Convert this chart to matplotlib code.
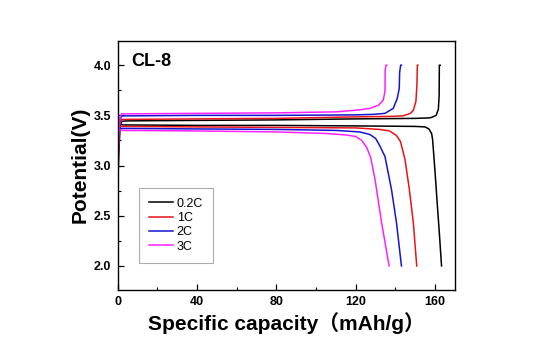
import matplotlib
matplotlib.use("Agg")
import matplotlib.pyplot as plt
from matplotlib.ticker import MultipleLocator

plt.rcParams['font.family'] = ['Liberation Sans', 'Noto Sans CJK SC', 'DejaVu Sans']

labels = ["0.2C", "1C", "2C", "3C"]
colors = ["#000000", "#e8141a", "#1414d0", "#ff20ff"]

# charge curves (capacity mAh/g, potential V)
chg_cap_02 = [0, 0.5, 1.2, 2, 4, 40, 80, 120, 150, 157, 158.2, 160.5, 161.6, 162.0, 162.1, 162.5]
chg_v_02 = [2.75, 3.10, 3.40, 3.44, 3.445, 3.45, 3.455, 3.465, 3.47, 3.475, 3.48, 3.50, 3.56, 3.70, 4.00, 4.00]
chg_cap_1 = [0, 0.5, 1.2, 2, 4, 40, 80, 120, 138, 143.9, 147.5, 149.0, 150.3, 150.8, 151.0, 151.3]
chg_v_1 = [2.85, 3.15, 3.42, 3.46, 3.46, 3.465, 3.47, 3.485, 3.49, 3.495, 3.52, 3.55, 3.64, 3.80, 4.00, 4.00]
chg_cap_2 = [0, 0.5, 1.2, 2, 4, 40, 80, 120, 128.8, 134.7, 138.9, 140.9, 141.9, 142.1, 142.6, 143.0]
chg_v_2 = [3.00, 3.25, 3.46, 3.495, 3.495, 3.50, 3.50, 3.505, 3.51, 3.52, 3.57, 3.67, 3.77, 3.93, 4.00, 4.00]
chg_cap_3 = [0, 0.5, 1.2, 2, 4, 40, 80, 110, 122, 127.1, 131.3, 133.8, 134.7, 134.8, 135.2, 135.6]
chg_v_3 = [3.05, 3.30, 3.48, 3.515, 3.515, 3.52, 3.525, 3.535, 3.555, 3.57, 3.60, 3.65, 3.74, 3.95, 4.00, 4.00]

# discharge curves
dis_cap_02 = [0, 0.4, 1, 3, 40, 80, 120, 150, 154.9, 156.8, 158.2, 158.7, 160.0, 161.0, 162.2, 163.2]
dis_v_02 = [3.55, 3.43, 3.41, 3.405, 3.40, 3.40, 3.395, 3.39, 3.385, 3.365, 3.32, 3.26, 2.92, 2.63, 2.30, 2.00]
dis_cap_1 = [0, 0.4, 1, 3, 40, 80, 120, 132, 137, 140.5, 142.5, 144.8, 147.0, 149.0, 150.7]
dis_v_1 = [3.62, 3.41, 3.39, 3.39, 3.385, 3.38, 3.375, 3.36, 3.345, 3.30, 3.24, 3.06, 2.76, 2.43, 2.00]
dis_cap_2 = [0, 0.4, 1, 3, 40, 80, 110, 122, 127, 130, 132, 134.7, 138.0, 140.5, 143.0]
dis_v_2 = [3.70, 3.40, 3.37, 3.37, 3.365, 3.36, 3.35, 3.335, 3.31, 3.27, 3.20, 3.09, 2.76, 2.43, 2.00]
dis_cap_3 = [0, 0.4, 1, 3, 40, 80, 105, 115, 120, 123, 125.5, 127.5, 129.7, 133.0, 136.8]
dis_v_3 = [3.82, 3.40, 3.355, 3.35, 3.345, 3.335, 3.32, 3.305, 3.29, 3.25, 3.18, 3.08, 2.86, 2.43, 2.00]

charge = [(chg_cap_02, chg_v_02), (chg_cap_1, chg_v_1), (chg_cap_2, chg_v_2), (chg_cap_3, chg_v_3)]
discharge = [(dis_cap_02, dis_v_02), (dis_cap_1, dis_v_1), (dis_cap_2, dis_v_2), (dis_cap_3, dis_v_3)]

xticks = [0, 40, 80, 120, 160]
yticks = [2.0, 2.5, 3.0, 3.5, 4.0]

fig = plt.figure(figsize=(5.5, 3.5), dpi=100)
ax = fig.add_axes([0.214, 0.1714, 0.6133, 0.7126])

for i in range(len(labels)):
    ax.plot(charge[i][0], charge[i][1], color=colors[i], lw=1.1, label=labels[i])
    ax.plot(discharge[i][0], discharge[i][1], color=colors[i], lw=1.1)

ax.set_xlim(0, 170)
ax.set_ylim(1.76, 4.245)
ax.set_xticks(xticks)
ax.set_yticks(yticks)
ax.set_xticklabels([str(t) for t in xticks])
ax.set_yticklabels([f"{t:.1f}" for t in yticks])
ax.xaxis.set_minor_locator(MultipleLocator(20))
ax.yaxis.set_minor_locator(MultipleLocator(0.25))
ax.tick_params(which='both', direction='in', top=False, right=False)
ax.tick_params(which='major', length=4, width=0.9, labelsize=9, pad=4.5)
ax.tick_params(which='minor', length=2, width=0.8)
for lbl in ax.get_xticklabels() + ax.get_yticklabels():
    lbl.set_fontweight('bold')
for s in ax.spines.values():
    s.set_linewidth(1.0)

ax.set_xlabel("Specific capacity（mAh/g）", fontsize=15, fontweight='bold', labelpad=3)
ax.set_ylabel("Potential(V)", fontsize=15, fontweight='bold', labelpad=3)

ax.text(0.04, 0.917, "CL-8", transform=ax.transAxes, fontsize=13, fontweight='bold',
        va='center', ha='left')

leg = ax.legend(loc='upper left', bbox_to_anchor=(0.064, 0.41), borderaxespad=0,
                fontsize=9, frameon=True, fancybox=False, edgecolor='#999999',
                handlelength=1.9, handletextpad=0.3, labelspacing=0.18,
                borderpad=0.8)
leg.get_frame().set_linewidth(0.8)

fig.savefig("out.png", dpi=100)
